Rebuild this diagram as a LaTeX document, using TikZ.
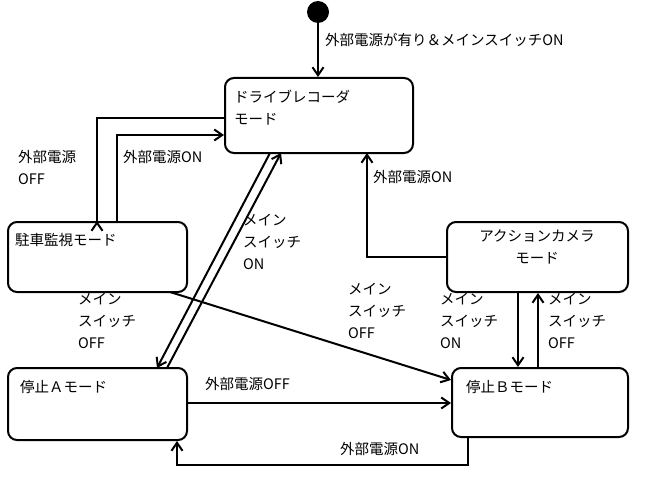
\documentclass[tikz,border=0pt]{standalone}
\usepackage{fontspec}
\setmainfont{Noto Sans CJK JP}
\usetikzlibrary{arrows.meta}
\begin{document}
\begin{tikzpicture}[x=1pt,y=-1pt,
  box/.style={draw,line width=2pt,rounded corners=9pt,inner sep=0pt},
  lbl/.style={anchor=north west,inner sep=0pt,align=left,font=\fontsize{14.5}{22}\selectfont},
  conn/.style={line width=2pt,-{Straight Barb[length=8pt,width=11pt,line width=2pt]}}]
\useasboundingbox (0,0) rectangle (652,476);
\fill (318,12) circle (11) coordinate (init);
\node[box,minimum width=188pt,minimum height=75pt] (drive) at (319,115.5) {};
\node[box,minimum width=179pt,minimum height=70pt] (park) at (97.5,257) {};
\node[box,minimum width=179pt,minimum height=72pt] (stopa) at (97.5,404) {};
\node[box,minimum width=176pt,minimum height=69pt] (stopb) at (540,402.5) {};
\node[box,minimum width=181pt,minimum height=70pt] (act) at (537.5,257) {};
\node[lbl] (tdrive) at (234,90) {ドライブレコーダ\\モード};
\node[lbl] (tpark) at (15,233) {駐車監視モード};
\node[lbl] (tstopa) at (20,380) {停止Ａモード};
\node[lbl] (tstopb) at (466,380) {停止Ｂモード};
\node[lbl,align=center,anchor=north] (tact) at (537,230) {アクションカメラ\\モード};
% connectors
\draw[conn] (init) -- (init |- drive.north);
\node[lbl] (l0) at (325,33) {外部電源が有り＆メインスイッチON};
\draw[conn] (drive.west |- 0,118) -| (97,222) coordinate (pk1) -- (pk1 |- park.north);
\node[lbl] (l1) at (18,150) {外部電源\\OFF};
\draw[conn] (117,222) coordinate (pk2) |- (drive.west |- 0,135);
\node[lbl] (l2) at (123,150) {外部電源ON};
\draw[conn] (270,153) coordinate (d1) -- (157,368) coordinate (sa1);
\draw[conn] (167,368) coordinate (sa2) -- (281,153) coordinate (d2);
\node[lbl] (l3) at (78,293) {メイン\\スイッチ\\OFF};
\node[lbl] (l4) at (243,214) {メイン\\スイッチ\\ON};
\draw[conn] (170,292) coordinate (pk3) -- (stopb.west |- 0,380);
\node[lbl] (l5) at (348,283) {メイン\\スイッチ\\OFF};
\draw[conn] (act.west |- 0,257) -| (367,153) coordinate (d3);
\node[lbl] (l6) at (373,170) {外部電源ON};
\draw[conn] (518,292) coordinate (a1) -- (a1 |- stopb.north);
\node[lbl] (l7) at (440,293) {メイン\\スイッチ\\ON};
\draw[conn] (538,368) coordinate (b1) -- (b1 |- act.south);
\node[lbl] (l8) at (548,293) {メイン\\スイッチ\\OFF};
\draw[conn] (stopa.east |- 0,403) -- (stopb.west |- 0,403);
\node[lbl] (l9) at (205,377) {外部電源OFF};
\draw[conn] (468,437) coordinate (b2) |- (177,465) coordinate (sa3) -- (sa3 |- stopa.south);
\node[lbl] (l10) at (340,442) {外部電源ON};
\end{tikzpicture}
\end{document}
